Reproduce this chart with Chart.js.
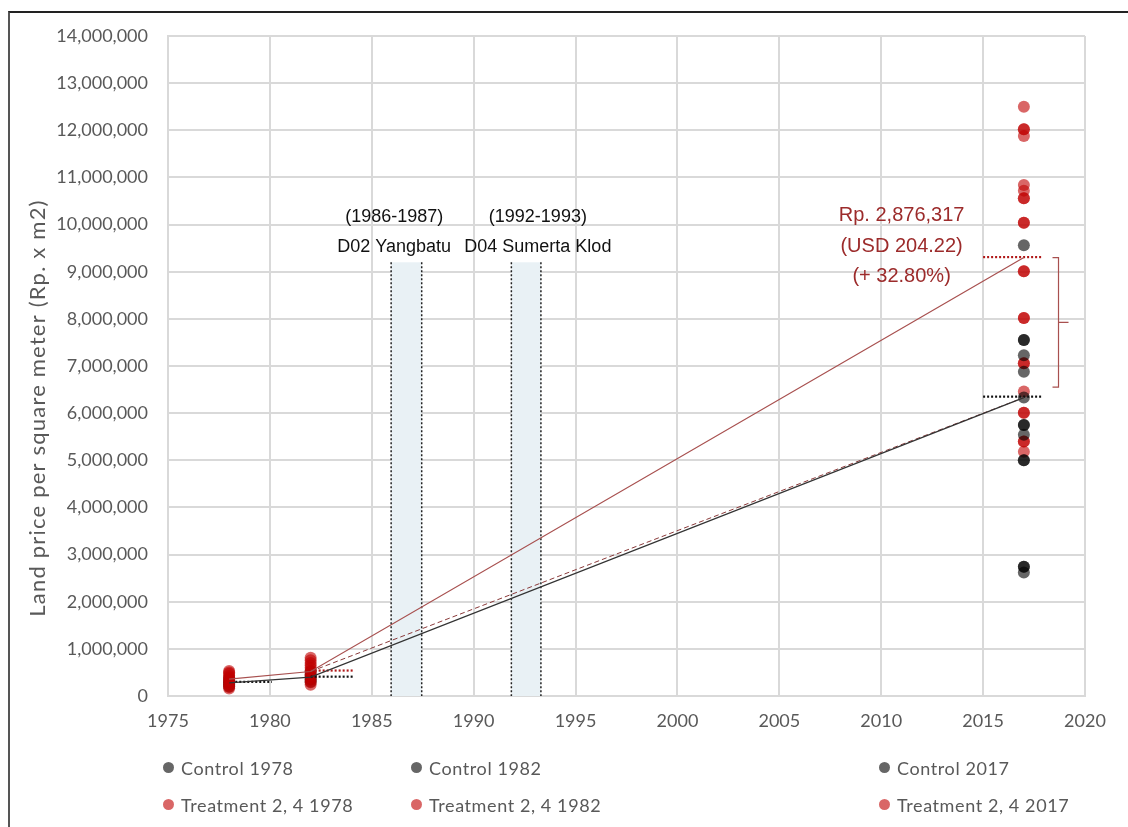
<!DOCTYPE html>
<html>
<head>
<meta charset="utf-8">
<script src="https://cdn.jsdelivr.net/npm/chart.js@4.4.0/dist/chart.umd.min.js"></script>
<style>
  body { margin: 0; background: #fff; }
  #wrap { position: relative; width: 1128px; height: 827px; overflow: hidden; background: #fff; }
  #frame { position: absolute; left: 8px; top: 11px; width: 1130px; height: 830px;
           border-top: 2px solid #222; border-left: 2px solid #555; pointer-events: none; }
  #chart { position: absolute; left: 0; top: 0; }
  .item { position: absolute; font: 18px Lato, "Open Sans", sans-serif; letter-spacing: 0.6px;
          color: #595959; white-space: nowrap; line-height: 20px; }
  .dot { position: absolute; left: -18px; top: 4px; width: 11px; height: 11px; border-radius: 50%; }
</style>
</head>
<body>
<div id="wrap">
  <canvas id="chart" width="1128" height="827"></canvas>
  <div id="frame"></div>
  <div id="legend"></div>
</div>
<script>
// tick range
var xTicks = [1975, 1980, 1985, 1990, 1995, 2000, 2005, 2010, 2015, 2020];
var yMax = 14000000;

// land price samples (Rp per m2)
var control1978 = [200000, 250000, 280000, 320000, 380000];
var control1982 = [300000, 350000, 400000, 450000, 520000];
var control2017 = [9560000, 7550000, 7550000, 7230000, 6880000, 6330000, 5750000, 5750000,
                   5540000, 5000000, 5000000, 2740000, 2740000, 2620000];
var treat1978 = [160000, 190000, 230000, 260000, 300000, 330000, 360000, 400000, 430000, 470000, 500000, 530000];
var treat1982 = [240000, 290000, 340000, 390000, 440000, 490000, 540000, 600000, 650000, 700000, 760000, 810000];
var treat2017 = [12500000, 12020000, 12020000, 11880000, 10840000, 10720000, 10560000, 10560000,
                 10040000, 10040000, 9010000, 9010000, 8020000, 8020000, 7060000, 7060000,
                 6460000, 6010000, 6010000, 5400000, 5400000, 5180000];

// trend lines
var trendYears = [1978, 1982, 2017];
var controlTrend = [280000, 400000, 6330000];
var treatTrend = [360000, 520000, 9300000];
var dashedYears = [1982, 2017];
var dashedTrend = [520000, 6330000];

// mean markers (dotted)
var meanBlack = [[1978.3, 1980.1, 300000], [1982, 1984.1, 410000], [2015, 2017.9, 6350000]];
var meanRed = [[1982, 1984.1, 540000], [2015, 2017.9, 9310000]];

// dam construction periods
var bandStart = [1985.95, 1991.85];
var bandEnd = [1987.45, 1993.3];
var bandTop = 9200000;
var bandYears = ['(1986-1987)', '(1992-1993)'];
var bandNames = ['D02 Yangbatu', 'D04 Sumerta Klod'];
var bandLabelX = [1986.1, 1993.15];

var noteLines = ['Rp. 2,876,317', '(USD 204.22)', '(+ 32.80%)'];
var noteY = [10200000, 9525000, 8890000];
var bracket = {x: 2018.7, top: 9300000, bottom: 6550000};

var GREY = 'rgba(0,0,0,0.6)';
var RED = 'rgba(192,0,0,0.6)';

function pts(year, vals) {
    return vals.map(function(v){ return {x: year, y: v}; });
}
function pair(xs, ys) {
    return xs.map(function(x, i){ return {x: x, y: ys[i]}; });
}

function dots(label, year, vals, color, order) {
    return {label: label, data: pts(year, vals), backgroundColor: color, borderColor: color,
            pointRadius: 6, pointBorderWidth: 0, order: order, showLine: false};
}

var datasets = [
    dots('Control 1978', 1978, control1978, GREY, 5),
    dots('Control 1982', 1982, control1982, GREY, 5),
    dots('Control 2017', 2017, control2017, GREY, 3),
    dots('Treatment 2, 4 1978', 1978, treat1978, RED, 4),
    dots('Treatment 2, 4 1982', 1982, treat1982, RED, 4),
    dots('Treatment 2, 4 2017', 2017, treat2017, RED, 4)
];
var legendCount = datasets.length;

function line(data, color, width, dash) {
    return {data: data, showLine: true, pointRadius: 0, borderColor: color, borderWidth: width,
            borderDash: dash, order: -1, fill: false};
}
datasets.push(line(pair(trendYears, treatTrend), '#a8504f', 1.2, []));
datasets.push(line(pair(trendYears, controlTrend), '#333', 1.2, []));
datasets.push(line(pair(dashedYears, dashedTrend), '#8a3a3a', 1, [5, 3]));
meanBlack.forEach(function(m){
    datasets.push(line([{x: m[0], y: m[2]}, {x: m[1], y: m[2]}], '#111', 2.2, [2, 2]));
});
meanRed.forEach(function(m){
    datasets.push(line([{x: m[0], y: m[2]}, {x: m[1], y: m[2]}], '#b01818', 2.2, [2, 2]));
});

var overlay = {
    id: 'overlay',
    beforeDatasetsDraw: function(chart) {
        var ctx = chart.ctx, x = chart.scales.x, y = chart.scales.y;
        ctx.save();
        for (var i = 0; i < bandStart.length; i++) {
            var x0 = x.getPixelForValue(bandStart[i]), x1 = x.getPixelForValue(bandEnd[i]);
            var yt = y.getPixelForValue(bandTop), yb = y.getPixelForValue(0);
            ctx.fillStyle = '#e9f1f5';
            ctx.fillRect(x0, yt, x1 - x0, yb - yt);
            ctx.setLineDash([2, 2]);
            ctx.strokeStyle = '#222';
            ctx.lineWidth = 1.5;
            ctx.beginPath();
            ctx.moveTo(x0, yt); ctx.lineTo(x0, yb);
            ctx.moveTo(x1, yt); ctx.lineTo(x1, yb);
            ctx.stroke();
        }
        ctx.restore();
    },
    afterDatasetsDraw: function(chart) {
        var ctx = chart.ctx, x = chart.scales.x, y = chart.scales.y;
        ctx.save();
        ctx.textAlign = 'center';
        ctx.textBaseline = 'middle';
        ctx.fillStyle = '#111';
        ctx.font = '18px "Liberation Sans", Arial, sans-serif';
        for (var i = 0; i < bandYears.length; i++) {
            var cx = x.getPixelForValue(bandLabelX[i]);
            ctx.fillText(bandYears[i], cx, y.getPixelForValue(10160000));
            ctx.fillText(bandNames[i], cx, y.getPixelForValue(9530000));
        }
        ctx.fillStyle = '#9c2b2b';
        ctx.font = '20px "Liberation Sans", Arial, sans-serif';
        noteLines.forEach(function(t, i){
            ctx.fillText(t, x.getPixelForValue(2011), y.getPixelForValue(noteY[i]));
        });
        // bracket
        var bx = x.getPixelForValue(bracket.x);
        var bt = y.getPixelForValue(bracket.top), bb = y.getPixelForValue(bracket.bottom);
        ctx.strokeStyle = '#a8504f';
        ctx.lineWidth = 1.2;
        ctx.beginPath();
        ctx.moveTo(bx - 6, bt); ctx.lineTo(bx, bt); ctx.lineTo(bx, bb); ctx.lineTo(bx - 6, bb);
        ctx.moveTo(bx, (bt + bb) / 2); ctx.lineTo(bx + 10, (bt + bb) / 2);
        ctx.stroke();
        ctx.restore();
    },
    afterDraw: function(chart) {
        var ctx = chart.ctx;
        ctx.save();
        ctx.translate(38, 408);
        ctx.rotate(-Math.PI / 2);
        ctx.textAlign = 'center';
        ctx.textBaseline = 'middle';
        ctx.fillStyle = '#595959';
        ctx.font = '22px Lato, "Open Sans", sans-serif';
        ctx.letterSpacing = '1.2px';
        ctx.fillText('Land price per square meter (Rp. x m2)', 0, 0);
        ctx.restore();
    }
};

var tickFont = {family: 'Lato, "Open Sans", sans-serif', size: 18};

var chart = new Chart(document.getElementById('chart'), {
    type: 'scatter',
    data: {datasets: datasets},
    options: {
        responsive: false,
        animation: false,
        layout: {padding: {top: 36, right: 43, bottom: 0, left: 0}},
        plugins: {legend: {display: false}, tooltip: {enabled: false}},
        scales: {
            x: {
                min: xTicks[0], max: xTicks[xTicks.length - 1],
                afterBuildTicks: function(s){ s.ticks = xTicks.map(function(v){ return {value: v}; }); },
                ticks: {color: '#595959', font: tickFont, padding: 14, callback: function(v){ return String(v); }},
                grid: {color: '#d9d9d9', lineWidth: 2, drawTicks: false},
                border: {color: '#d9d9d9', width: 2},
                afterFit: function(s){ s.height = 131; }
            },
            y: {
                min: 0, max: yMax,
                ticks: {stepSize: 1000000, color: '#595959', font: tickFont, padding: 20,
                        callback: function(v){ return v.toLocaleString('en-US'); }},
                grid: {color: '#d9d9d9', lineWidth: 2, drawTicks: false},
                border: {color: '#d9d9d9', width: 2},
                afterFit: function(s){ s.width = 168; }
            }
        }
    },
    plugins: [overlay]
});

// legend laid out in Excel's three columns
var legendCols = [181, 429, 897];
var legendRows = [758, 795];
var legend = document.getElementById('legend');
for (var i = 0; i < legendCount; i++) {
    var ds = chart.data.datasets[i];
    var el = document.createElement('div');
    el.className = 'item';
    el.style.left = legendCols[i % 3] + 'px';
    el.style.top = legendRows[Math.floor(i / 3)] + 'px';
    var d = document.createElement('span');
    d.className = 'dot';
    d.style.background = ds.backgroundColor;
    el.appendChild(d);
    el.appendChild(document.createTextNode(ds.label));
    legend.appendChild(el);
}
</script>
</body>
</html>
